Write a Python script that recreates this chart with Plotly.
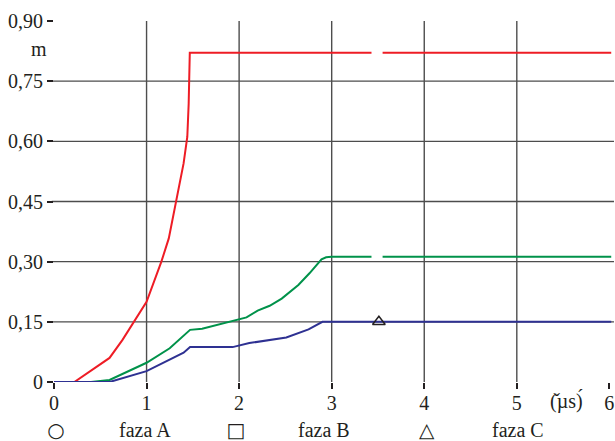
import plotly.graph_objects as go

# ---- data ----
red_x = [0.0, 0.22, 0.6, 0.74, 1.0, 1.16, 1.24, 1.32, 1.40, 1.44, 1.455, 1.467, 3.43, None, 3.55, 6.02]
red_y = [0.0, 0.0, 0.06, 0.105, 0.20, 0.30, 0.358, 0.453, 0.545, 0.611, 0.694, 0.821, 0.821, None, 0.821, 0.821]

green_x = [0.0, 0.4, 0.6, 1.0, 1.25, 1.47, 1.6, 2.0, 2.08, 2.2, 2.33, 2.46, 2.64, 2.76, 2.89, 2.94, 3.0, 3.43, None, 3.55, 6.02]
green_y = [0.0, 0.0, 0.005, 0.048, 0.084, 0.13, 0.133, 0.155, 0.161, 0.178, 0.19, 0.208, 0.242, 0.271, 0.306, 0.311, 0.312, 0.312, None, 0.312, 0.312]

blue_x = [0.0, 0.6, 1.0, 1.25, 1.40, 1.47, 1.93, 2.11, 2.51, 2.75, 2.9, 6.02]
blue_y = [0.0, 0.0, 0.027, 0.055, 0.073, 0.087, 0.087, 0.097, 0.111, 0.131, 0.150, 0.150]

marker_x = [3.51]
marker_y = [0.15]

x_ticks = [0, 1, 2, 3, 4, 5, 6]
x_labels = ["0", "1", "2", "3", "4", "5", "6"]
y_ticks = [0, 0.15, 0.30, 0.45, 0.60, 0.75, 0.90]
y_labels = ["0", "0,15", "0,30", "0,45", "0,60", "0,75", "0,90"]

legend_syms = ["○", "□", "△"]
legend_names = ["faza A", "faza B", "faza C"]

RED = "#ee1c25"
GREEN = "#00924a"
BLUE = "#2e3192"
TXT = "#231f20"
GRID = "#4d4d4d"
FONT = "Times New Roman, Liberation Serif, serif"
SYMFONT = "DejaVu Sans, sans-serif"

fig = go.Figure()

fig.add_trace(go.Scatter(x=red_x, y=red_y, mode="lines", line=dict(color=RED, width=2), connectgaps=False))
fig.add_trace(go.Scatter(x=green_x, y=green_y, mode="lines", line=dict(color=GREEN, width=2), connectgaps=False))
fig.add_trace(go.Scatter(x=blue_x, y=blue_y, mode="lines", line=dict(color=BLUE, width=2)))
fig.add_trace(go.Scatter(x=marker_x, y=marker_y, mode="markers",
                         marker=dict(symbol="triangle-up-open", size=11, color=TXT, line=dict(width=1.5))))

# grid lines (from tick lists)
for v in y_ticks[1:-1]:
    fig.add_shape(type="line", xref="paper", x0=-0.004, x1=1, yref="y", y0=v, y1=v,
                  line=dict(color=GRID, width=1.4), layer="below")
for v in x_ticks[1:-1]:
    fig.add_shape(type="line", xref="x", x0=v, x1=v, yref="y", y0=0, y1=y_ticks[-1],
                  line=dict(color=GRID, width=1.4), layer="below")

fig.update_xaxes(range=[0, 6.05], tickvals=x_ticks, ticktext=x_labels, showgrid=False, zeroline=False,
                 showline=False, ticks="outside", ticklen=6, tickwidth=2, tickcolor=TXT,
                 ticklabelstandoff=-3,
                 tickfont=dict(family=FONT, size=20, color=TXT))
fig.update_yaxes(range=[0, 0.9], tickvals=y_ticks, ticktext=y_labels, showgrid=False, zeroline=False,
                 showline=False, ticks="outside", ticklen=6, tickwidth=2, tickcolor=TXT,
                 tickfont=dict(family=FONT, size=20, color=TXT))

annots = [
    dict(x=39, y=49, text="m", f=FONT, s=20),
    dict(x=566, y=401, text="(̌µs)́", f=FONT, s=20),
    dict(x=56, y=430, text=legend_syms[0], f=SYMFONT, s=20),
    dict(x=145, y=430, text=legend_names[0], f=FONT, s=20),
    dict(x=236, y=430, text=legend_syms[1], f=SYMFONT, s=20),
    dict(x=324, y=430, text=legend_names[1], f=FONT, s=20),
    dict(x=427, y=430, text=legend_syms[2], f=SYMFONT, s=20),
    dict(x=518, y=430, text=legend_names[2], f=FONT, s=20),
]

L, R, T, B = 54, 1, 21, 59
pw, ph = 615 - L - R, 441 - T - B
for a in annots:
    fig.add_annotation(x=(a["x"] - L) / pw, y=(441 - a["y"] - B) / ph, xref="paper", yref="paper",
                       text=a["text"], showarrow=False, xanchor="center", yanchor="middle",
                       width=(None if len(a["text"]) > 2 else 28), height=(None if len(a["text"]) > 2 else 26),
                       font=dict(family=a["f"], size=a["s"], color=TXT))

fig.update_layout(width=615, height=441, margin=dict(l=L, r=R, t=T, b=B),
                  font=dict(family=FONT, color=TXT),
                  plot_bgcolor="white", paper_bgcolor="white", showlegend=False)

fig.write_html("out.html")
